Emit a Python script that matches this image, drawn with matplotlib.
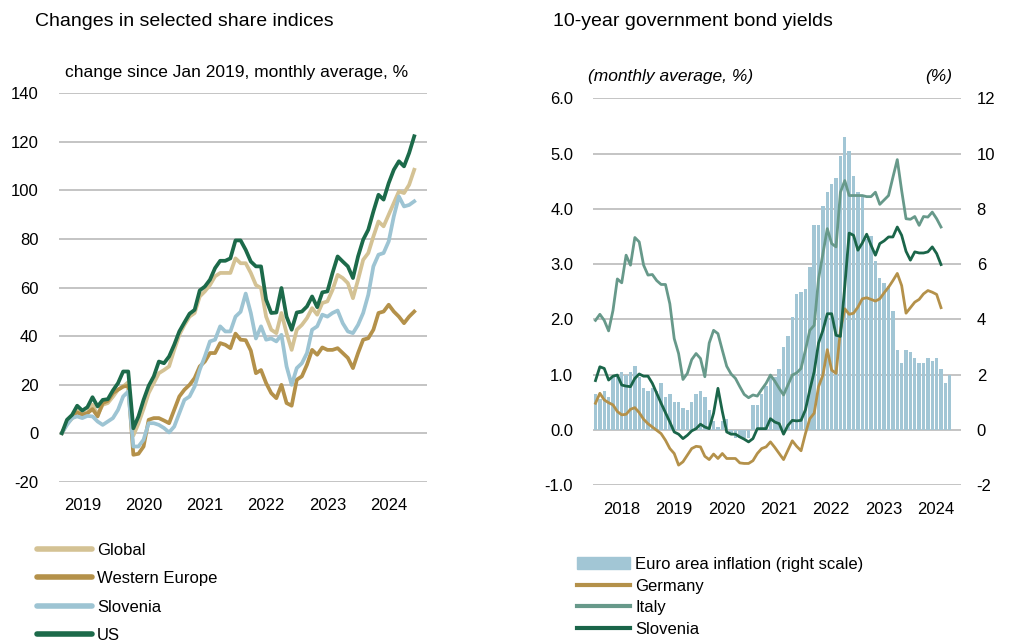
import matplotlib
matplotlib.use('Agg')
import matplotlib.pyplot as plt
import numpy as np
from matplotlib.patches import Patch
from matplotlib.lines import Line2D

plt.rcParams['font.family'] = ['Liberation Sans', 'DejaVu Sans']
plt.rcParams['axes.unicode_minus'] = False

# --- share indices, change since Jan 2019 (%), monthly Jan 2019 - Oct 2024
global_idx = [0, 4, 6, 9.3, 8.2, 8.5, 11.7, 7.6, 11.7, 12.4,
              15, 17.9, 19.2, 21, -1, 4, 10, 16.5, 20.6, 24.7,
              26, 27.5, 34.3, 40.5, 44.6, 48, 49.5, 56.3, 58.4, 61,
              64.6, 66, 66, 66, 72, 70, 70, 66, 61, 59.8,
              48, 42.6, 41.2, 49.5, 41.2, 34.3, 42.6, 44.6, 47.4, 51.5,
              48.8, 53.6, 54.3, 59, 65.2, 63.9, 61.8, 55.6, 63.2, 71.4,
              74.2, 81, 87.2, 85.2, 90, 94.8, 99.6, 98.9, 102.3, 108.5]
west_europe = [0, 4, 6.9, 8.5, 7.6, 8.2, 9.9, 6.9, 12.4, 13.3,
               16.5, 17.9, 19.2, 19.5, -8.9, -8.5, -5.5, 5.5, 6.2, 6.2,
               5.2, 4.1, 9.6, 15.1, 17.9, 19.9, 22.7, 27.5, 29.5, 33,
               33, 37.1, 36.4, 35, 41, 38.5, 38.3, 34, 24.7, 26,
               20.6, 16.5, 14.4, 19.9, 12.4, 11.3, 22, 23.4, 28.2, 34.3,
               32.3, 35.3, 34.3, 34.3, 35, 33, 31, 26.8, 33, 38.5,
               39.1, 42.6, 49.5, 50.1, 52.9, 50.1, 48, 45.3, 48, 50.1]
slovenia_idx = [0, 3.4, 6.2, 6.9, 6.2, 7.1, 6.9, 4.8, 3.4, 4.8,
                6.2, 9.6, 15.1, 17.2, -5.5, -5.5, -2.7, 4.1, 4.1, 3.4,
                2.1, 0.3, 2.7, 8.2, 13.7, 15.1, 19.2, 26.1, 31.6, 37.8,
                38.5, 44, 41.9, 41.9, 48, 50, 57.5, 49.5, 39, 44,
                38.5, 39, 37.8, 40.5, 27.5, 19.9, 26.8, 28.8, 33, 42.6,
                44, 48.8, 48, 49.5, 50.5, 45.3, 41.9, 41.2, 44.6, 49.5,
                57, 68.7, 73.5, 74.2, 79, 89.3, 97.5, 93.4, 94, 95.5]
us_idx = [0, 5.5, 7.5, 11.3, 9.3, 10.7, 14.8, 11, 13.7, 14,
          17.6, 20.6, 25.4, 25.4, 2, 6.9, 13.7, 19.5, 23.4, 29.5,
          28.8, 31.6, 36.4, 41.9, 45.6, 49.2, 50.8, 58.8, 60.4, 63.2,
          68, 71, 71, 72, 79.4, 79.4, 75.5, 70.7, 68.7, 68.7,
          55, 49.5, 49.7, 59.8, 48, 42.6, 49.7, 50.1, 52.2, 56.3,
          51.9, 58, 58.4, 66, 72.8, 70.7, 68.7, 63.9, 72.8, 79.7,
          83.8, 91.3, 98.2, 96.2, 103, 108.5, 112, 109.9, 115.4, 122.3]
share_years = ['2019', '2020', '2021', '2022', '2023', '2024']

# --- bond yields (%), monthly Jan 2018 - Aug 2024; inflation Jan 2018 - Oct 2024
inflation = [1.3, 1.1, 1.4, 1.2, 1.9, 2.0, 2.1, 2.0, 2.1, 2.3, 1.9, 1.5,
             1.4, 1.5, 1.4, 1.7, 1.2, 1.3, 1.0, 1.0, 0.8, 0.7, 1.0, 1.3,
             1.4, 1.2, 0.7, 0.3, 0.1, 0.3, 0.4, -0.2, -0.3, -0.3, -0.3, -0.3,
             0.9, 0.9, 1.3, 1.6, 2.0, 1.9, 2.2, 3.0, 3.4, 4.1, 4.9, 5.0,
             5.1, 5.9, 7.4, 7.4, 8.1, 8.6, 8.9, 9.1, 9.9, 10.6, 10.1, 9.2,
             8.6, 8.5, 6.9, 7.0, 6.1, 5.5, 5.3, 5.2, 4.3, 2.9, 2.4, 2.9,
             2.8, 2.6, 2.4, 2.4, 2.6, 2.5, 2.6, 2.2, 1.7, 2.0]
germany = [0.48, 0.66, 0.54, 0.49, 0.45, 0.33, 0.27, 0.28, 0.37, 0.4,
           0.31, 0.19, 0.11, 0.05, -0.01, -0.07, -0.19, -0.34, -0.43, -0.64,
           -0.58, -0.46, -0.34, -0.3, -0.31, -0.48, -0.54, -0.44, -0.52, -0.43,
           -0.52, -0.52, -0.52, -0.6, -0.61, -0.61, -0.56, -0.43, -0.34, -0.31,
           -0.22, -0.32, -0.43, -0.54, -0.37, -0.2, -0.3, -0.38, -0.07, 0.2,
           0.3, 0.78, 0.99, 1.45, 1.08, 1.02, 1.8, 2.19, 2.09, 2.11,
           2.22, 2.37, 2.39, 2.36, 2.33, 2.37, 2.48, 2.58, 2.7, 2.83,
           2.61, 2.11, 2.21, 2.31, 2.36, 2.46, 2.52, 2.49, 2.45, 2.21]
italy = [1.98, 2.09, 1.98, 1.79, 2.16, 2.73, 2.66, 3.16, 2.98, 3.48,
         3.4, 2.98, 2.8, 2.81, 2.7, 2.63, 2.63, 2.28, 1.65, 1.38,
         0.91, 1.02, 1.27, 1.38, 1.29, 0.96, 1.57, 1.8, 1.74, 1.44,
         1.15, 1.01, 0.93, 0.78, 0.64, 0.58, 0.63, 0.61, 0.73, 0.84,
         0.99, 0.88, 0.75, 0.63, 0.81, 0.99, 1.03, 1.11, 1.44, 1.8,
         1.89, 2.73, 3.19, 3.64, 3.37, 3.31, 4.3, 4.51, 4.24, 4.24,
         4.24, 4.24, 4.22, 4.22, 4.3, 4.08, 4.16, 4.24, 4.57, 4.89,
         4.33, 3.82, 3.81, 3.86, 3.7, 3.86, 3.85, 3.94, 3.82, 3.67]
slovenia_yield = [0.89, 1.14, 1.11, 0.9, 0.97, 0.99, 0.81, 0.79, 0.78, 0.93,
                  1.01, 0.97, 0.97, 0.84, 0.66, 0.48, 0.31, 0.14, -0.04, -0.08,
                  -0.16, -0.1, -0.02, 0.02, 0.1, 0.05, 0.02, 0.3, 0.75, 0.33,
                  -0.04, -0.08, -0.08, -0.13, -0.17, -0.22, -0.16, 0.02, 0.02, 0.02,
                  0.2, 0.14, 0.11, -0.08, 0.08, 0.17, 0.16, 0.17, 0.36, 0.72,
                  1.05, 1.57, 1.8, 2.1, 2.1, 1.71, 1.69, 2.6, 3.56, 3.52,
                  3.25, 3.38, 3.54, 3.34, 3.16, 3.37, 3.42, 3.49, 3.49, 3.67,
                  3.52, 3.23, 3.07, 3.22, 3.2, 3.2, 3.22, 3.31, 3.19, 2.99]
bond_years = ['2018', '2019', '2020', '2021', '2022', '2023', '2024']

# colours
c_global = '#d4c294'
c_weur = '#b4914a'
c_slo_light = '#9dc4d3'
c_us = '#1c6a4a'
c_italy = '#67998a'
c_slo_dark = '#1a6549'
c_bar = '#a2c6d5'
c_grid = '#b4b4b4'

W, H = 1009, 641
fig = plt.figure(figsize=(W / 100, H / 100), dpi=100)

# ---------------- left chart: share indices
ax1 = fig.add_axes([59.3 / W, 1 - 481.7 / H, (427 - 59.3) / W, (481.7 - 93.3) / H])
m = np.arange(len(us_idx))
lw = 2.7
ax1.plot(m, global_idx, color=c_global, lw=lw, label='Global')
ax1.plot(m, west_europe, color=c_weur, lw=lw, label='Western Europe')
ax1.plot(m, slovenia_idx, color=c_slo_light, lw=lw, label='Slovenia')
ax1.plot(m, us_idx, color=c_us, lw=lw, label='US')
ax1.set_xlim(-0.5, 71.5)
ax1.set_ylim(-20, 140)
ax1.set_yticks(range(-20, 141, 20))
ax1.set_xticks([4 + 12 * i for i in range(len(share_years))])
ax1.set_xticklabels(share_years)
ax1.grid(axis='y', color=c_grid, lw=1.1)
ax1.set_axisbelow(True)
for s in ax1.spines.values():
    s.set_visible(False)
ax1.tick_params(axis='y', length=0, pad=15, labelsize=12)
ax1.tick_params(axis='x', length=0, pad=12, labelsize=12)

# ---------------- right chart: bond yields + inflation bars
ax2 = fig.add_axes([593.3 / W, 1 - 485 / H, (960.7 - 593.3) / W, (485 - 98.3) / H])
ax3 = ax2.twinx()
mi = np.arange(len(inflation))
ax3.bar(mi, inflation, width=0.78, color=c_bar, label='Euro area inflation (right scale)')
ax3.set_ylim(-2, 12)
ax3.set_yticks(range(-2, 13, 2))
ax3.grid(axis='y', color=c_grid, lw=1.1)
ax3.set_axisbelow(True)

mb = np.arange(len(germany))
lw2 = 2.0
ax2.plot(mb, germany, color=c_weur, lw=lw2, label='Germany')
ax2.plot(mb, italy, color=c_italy, lw=lw2, label='Italy')
ax2.plot(mb, slovenia_yield, color=c_slo_dark, lw=lw2, label='Slovenia')
ax2.set_zorder(ax3.get_zorder() + 1)
ax2.patch.set_visible(False)
ax2.set_xlim(-0.5, 83.5)
ax2.set_ylim(-1, 6)
ax2.set_yticks(np.arange(-1, 6.1, 1))
ax2.set_yticklabels(['%.1f' % v for v in np.arange(-1, 6.1, 1)])
ax2.set_xticks([5.9 + 12 * i for i in range(len(bond_years))])
ax2.set_xticklabels(bond_years)
for a in (ax2, ax3):
    for s in a.spines.values():
        s.set_visible(False)
ax2.tick_params(axis='y', length=0, pad=14.5, labelsize=12)
ax2.tick_params(axis='x', length=0, pad=12, labelsize=12)
ax3.tick_params(axis='y', length=0, pad=11.5, labelsize=12)

# ---------------- titles
fig.text(35 / W, 1 - 22 / H, 'Changes in selected share indices', fontsize=14, va='center')
fig.text(65 / W, 1 - 72 / H, 'change since Jan 2019, monthly average, %', fontsize=12.5, va='center')
fig.text(553 / W, 1 - 22 / H, '10-year government bond yields', fontsize=14, va='center')
fig.text(588 / W, 1 - 77 / H, '(monthly average, %)', fontsize=12.5, style='italic', va='center')
fig.text(952 / W, 1 - 77 / H, '(%)', fontsize=12.5, style='italic', va='center', ha='right')

# ---------------- legends
h1 = [Line2D([], [], color=c, lw=4, solid_capstyle='round')
      for c in (c_global, c_weur, c_slo_light, c_us)]
fig.legend(h1, ['Global', 'Western Europe', 'Slovenia', 'US'],
           loc='upper left', bbox_to_anchor=(37 / W, 1 - 543 / H), frameon=False,
           fontsize=12, handlelength=3.3, handletextpad=0.3, labelspacing=0.8,
           borderpad=0, borderaxespad=0)

h2 = [Patch(color=c_bar)] + [Line2D([], [], color=c, lw=3)
                             for c in (c_weur, c_italy, c_slo_dark)]
fig.legend(h2, ['Euro area inflation (right scale)', 'Germany', 'Italy', 'Slovenia'],
           loc='upper left', bbox_to_anchor=(577 / W, 1 - 557 / H), frameon=False,
           fontsize=12, handlelength=3.2, handletextpad=0.3, labelspacing=0.4,
           handleheight=0.75, borderpad=0, borderaxespad=0)

fig.savefig('out.png', dpi=100)
